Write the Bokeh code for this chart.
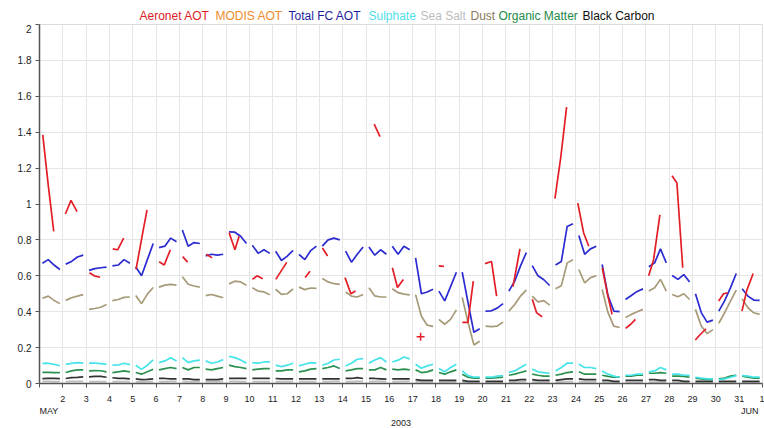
from bokeh.plotting import figure
from bokeh.layouts import column
from bokeh.models import FixedTicker, NumeralTickFormatter, Range1d, LinearAxis
from bokeh.core.properties import value
from bokeh.embed import file_html
from bokeh.resources import INLINE

# ---------------- data ----------------
# model values: 4 values per day (03, 09, 15, 21 UTC), May 1 .. May 31 2003
hours = [3, 9, 15, 21]
n_days = 31

total_fc = [
    0.67, 0.69, 0.66, 0.635,   0.665, 0.68, 0.705, 0.715,  0.63, 0.64, 0.645, 0.648,
    0.655, 0.66, 0.69, 0.67,   0.65, 0.60, 0.69, 0.78,     0.757, 0.765, 0.81, 0.79,
    0.855, 0.765, 0.785, 0.78, 0.71, 0.72, 0.715, 0.72,    0.845, 0.843, 0.82, 0.78,
    0.77, 0.725, 0.745, 0.725, 0.737, 0.685, 0.71, 0.742,  0.72, 0.69, 0.74, 0.765,
    0.765, 0.80, 0.81, 0.80,   0.737, 0.676, 0.72, 0.76,   0.76, 0.715, 0.745, 0.72,
    0.765, 0.72, 0.765, 0.745, 0.70, 0.50, 0.51, 0.525,    0.515, 0.46, 0.54, 0.62,
    0.62, 0.45, 0.285, 0.305,  0.403, 0.405, 0.42, 0.445,  0.515, 0.57, 0.655, 0.73,
    0.657, 0.60, 0.578, 0.546, 0.66, 0.68, 0.875, 0.89,    0.825, 0.72, 0.75, 0.765,
    0.663, 0.49, 0.403, 0.40,  0.468, 0.49, 0.513, 0.527,  0.65, 0.672, 0.75, 0.672,
    0.602, 0.58, 0.607, 0.565, 0.50, 0.395, 0.342, 0.353,  0.403, 0.46, 0.533, 0.613,
    0.528, 0.487, 0.465, 0.463,
]

dust = [
    0.475, 0.487, 0.463, 0.445, 0.463, 0.478, 0.487, 0.495, 0.413, 0.418, 0.425, 0.44,
    0.462, 0.468, 0.48, 0.482,  0.49, 0.445, 0.498, 0.535,  0.537, 0.548, 0.552, 0.548,
    0.595, 0.553, 0.543, 0.537, 0.49, 0.496, 0.487, 0.478,  0.555, 0.57, 0.566, 0.548,
    0.533, 0.515, 0.51, 0.495,  0.525, 0.497, 0.5, 0.527,   0.537, 0.523, 0.532, 0.53,
    0.585, 0.566, 0.556, 0.552, 0.51, 0.487, 0.482, 0.496,  0.533, 0.488, 0.482, 0.482,
    0.528, 0.506, 0.498, 0.494, 0.495, 0.375, 0.325, 0.318, 0.357, 0.33, 0.357, 0.41,
    0.48, 0.34, 0.215, 0.235,   0.32, 0.317, 0.32, 0.342,   0.403, 0.44, 0.487, 0.522,
    0.487, 0.455, 0.462, 0.437, 0.528, 0.545, 0.672, 0.69,  0.635, 0.56, 0.59, 0.60,
    0.524, 0.395, 0.32, 0.312,  0.367, 0.385, 0.40, 0.413,  0.515, 0.533, 0.58, 0.515,
    0.496, 0.483, 0.50, 0.468,  0.413, 0.32, 0.278, 0.30,   0.335, 0.394, 0.459, 0.52,
    0.472, 0.422, 0.394, 0.385,
]

sulphate = [
    0.112, 0.113, 0.107, 0.099, 0.107, 0.112, 0.116, 0.113, 0.113, 0.113, 0.111, 0.107,
    0.102, 0.103, 0.113, 0.105, 0.102, 0.079, 0.102, 0.131, 0.116, 0.126, 0.144, 0.126,
    0.144, 0.116, 0.126, 0.13,  0.126, 0.113, 0.12, 0.133,  0.152, 0.144, 0.131, 0.113,
    0.116, 0.113, 0.12, 0.12,   0.102, 0.094, 0.102, 0.113, 0.098, 0.107, 0.116, 0.113,
    0.102, 0.113, 0.131, 0.135, 0.098, 0.113, 0.135, 0.139, 0.113, 0.131, 0.144, 0.12,
    0.12, 0.13, 0.148, 0.137,   0.107, 0.085, 0.098, 0.107, 0.083, 0.065, 0.089, 0.107,
    0.07, 0.044, 0.035, 0.035,  0.035, 0.035, 0.041, 0.044, 0.061, 0.07, 0.089, 0.107,
    0.08, 0.065, 0.061, 0.057,  0.07, 0.089, 0.113, 0.113,  0.107, 0.089, 0.089, 0.083,
    0.07, 0.052, 0.041, 0.035,  0.046, 0.046, 0.052, 0.052, 0.065, 0.07, 0.089, 0.076,
    0.052, 0.052, 0.046, 0.046, 0.035, 0.03, 0.026, 0.026,  0.022, 0.026, 0.035, 0.044,
    0.044, 0.041, 0.035, 0.035,
]

sea_salt = [
    0.012, 0.012, 0.011, 0.011, 0.011, 0.012, 0.012, 0.012, 0.011, 0.011, 0.01, 0.01,
    0.01, 0.01, 0.011, 0.011,   0.01, 0.009, 0.01, 0.011,   0.011, 0.011, 0.012, 0.012,
    0.012, 0.011, 0.011, 0.011, 0.011, 0.011, 0.011, 0.012, 0.012, 0.012, 0.011, 0.011,
    0.011, 0.011, 0.011, 0.011, 0.01, 0.01, 0.01, 0.011,    0.01, 0.01, 0.011, 0.011,
    0.011, 0.011, 0.012, 0.012, 0.011, 0.011, 0.012, 0.012, 0.011, 0.012, 0.012, 0.011,
    0.011, 0.011, 0.012, 0.012, 0.01, 0.009, 0.009, 0.009,  0.009, 0.008, 0.009, 0.009,
    0.008, 0.007, 0.006, 0.006, 0.006, 0.006, 0.006, 0.007, 0.007, 0.008, 0.009, 0.01,
    0.009, 0.008, 0.008, 0.008, 0.008, 0.009, 0.01, 0.01,   0.01, 0.009, 0.009, 0.009,
    0.008, 0.007, 0.006, 0.006, 0.007, 0.007, 0.007, 0.007, 0.008, 0.008, 0.009, 0.008,
    0.007, 0.007, 0.006, 0.006, 0.006, 0.005, 0.005, 0.005, 0.005, 0.005, 0.006, 0.007,
    0.007, 0.006, 0.006, 0.006,
]

organic_matter = [
    0.062, 0.062, 0.061, 0.061, 0.061, 0.07, 0.076, 0.076,  0.07, 0.072, 0.071, 0.065,
    0.061, 0.065, 0.07, 0.065,  0.061, 0.052, 0.065, 0.079, 0.076, 0.083, 0.089, 0.083,
    0.089, 0.076, 0.089, 0.089, 0.08, 0.076, 0.083, 0.089,  0.102, 0.094, 0.089, 0.083,
    0.076, 0.08, 0.083, 0.083,  0.07, 0.07, 0.076, 0.076,   0.065, 0.07, 0.08, 0.083,
    0.083, 0.089, 0.098, 0.083, 0.07, 0.076, 0.083, 0.083,  0.076, 0.076, 0.089, 0.076,
    0.08, 0.076, 0.08, 0.076,   0.076, 0.061, 0.065, 0.076, 0.061, 0.052, 0.065, 0.076,
    0.052, 0.035, 0.03, 0.03,   0.03, 0.03, 0.032, 0.035,   0.046, 0.052, 0.061, 0.07,
    0.052, 0.046, 0.041, 0.041, 0.046, 0.052, 0.061, 0.065, 0.065, 0.052, 0.052, 0.052,
    0.046, 0.04, 0.035, 0.035,  0.041, 0.041, 0.046, 0.046, 0.057, 0.057, 0.061, 0.057,
    0.041, 0.041, 0.04, 0.035,  0.03, 0.026, 0.022, 0.022,  0.026, 0.03, 0.041, 0.046,
    0.041, 0.035, 0.03, 0.03,
]

black_carbon = [
    0.027, 0.028, 0.028, 0.027, 0.028, 0.033, 0.034, 0.037, 0.037, 0.04, 0.04, 0.035,
    0.032, 0.029, 0.029, 0.026, 0.026, 0.022, 0.023, 0.026, 0.028, 0.028, 0.026, 0.026,
    0.026, 0.026, 0.022, 0.022, 0.022, 0.022, 0.022, 0.026, 0.028, 0.028, 0.028, 0.028,
    0.028, 0.028, 0.028, 0.028, 0.028, 0.026, 0.026, 0.026, 0.026, 0.026, 0.026, 0.026,
    0.026, 0.026, 0.026, 0.026, 0.028, 0.028, 0.033, 0.028, 0.028, 0.028, 0.026, 0.024,
    0.026, 0.026, 0.026, 0.026, 0.022, 0.017, 0.017, 0.017, 0.017, 0.017, 0.017, 0.017,
    0.017, 0.012, 0.012, 0.012, 0.012, 0.012, 0.012, 0.012, 0.017, 0.017, 0.022, 0.022,
    0.022, 0.017, 0.017, 0.017, 0.017, 0.022, 0.026, 0.026, 0.026, 0.022, 0.022, 0.022,
    0.017, 0.017, 0.012, 0.012, 0.017, 0.017, 0.017, 0.017, 0.022, 0.022, 0.017, 0.017,
    0.017, 0.017, 0.012, 0.012, 0.012, 0.012, 0.012, 0.012, 0.012, 0.012, 0.012, 0.012,
    0.012, 0.012, 0.012, 0.012,
]

# AERONET observations: time in days since 2003-05-01 00 UTC, one list per day
aeronet_time = [
    [0.14, 0.38, 0.61], [1.11, 1.35, 1.61], [2.14, 2.35, 2.6], [3.14, 3.35, 3.61],
    [4.14, 4.37, 4.61], [5.13, 5.35, 5.61], [6.14, 6.35], [7.15, 7.4],
    [8.13, 8.38, 8.56], [9.13, 9.33, 9.57], [10.13, 10.6], [11.39, 11.6],
    [12.13, 12.35], [13.1, 13.35, 13.55], [14.35, 14.6], [15.13, 15.35, 15.6],
    [16.34], [17.12, 17.34], [18.13, 18.37, 18.6], [19.1, 19.38, 19.6],
    [20.3, 20.6], [21.13, 21.31, 21.55], [22.1, 22.35, 22.6], [23.08, 23.33, 23.55],
    [24.13, 24.35, 24.55], [25.13, 25.35, 25.55], [26.12, 26.33, 26.6],
    [27.12, 27.33, 27.58], [28.12, 28.33, 28.58], [29.12, 29.33, 29.5],
    [30.12, 30.33, 30.6],
]
aeronet_aot = [
    [1.385, 1.10, 0.848], [0.944, 1.02, 0.957], [0.617, 0.60, 0.592], [0.75, 0.745, 0.81],
    [0.636, 0.80, 0.967], [0.678, 0.66, 0.745], [0.707, 0.676], [0.72, 0.70],
    [0.84, 0.745, 0.82], [0.58, 0.60, 0.583], [0.58, 0.675], [0.59, 0.625],
    [0.755, 0.71], [0.59, 0.50, 0.515], [1.445, 1.375], [0.645, 0.535, 0.58],
    [0.261], [0.655, 0.652], [0.34, 0.34, 0.57], [0.668, 0.68, 0.487],
    [0.54, 0.75], [0.47, 0.395, 0.372], [1.03, 1.26, 1.54], [1.005, 0.84, 0.765],
    [0.645, 0.50, 0.385], [0.307, 0.33, 0.357], [0.6, 0.69, 0.94],
    [1.157, 1.117, 0.645], [0.242, 0.273, 0.305], [0.46, 0.50, 0.505],
    [0.403, 0.52, 0.613],
]

# MODIS: no retrievals shown in this period
modis_time = []
modis_aot = []

y_ticks = [0, 0.2, 0.4, 0.6, 0.8, 1.0, 1.2, 1.4, 1.6, 1.8, 2.0]
x_tick_labels = [""] + [str(d) for d in range(2, 32)] + ["1"]
month_labels = ["MAY", "JUN"]
year_label = "2003"

legend_names = ["Aeronet AOT", "MODIS AOT", "Total FC AOT", "Sulphate",
                "Sea Salt", "Dust", "Organic Matter", "Black Carbon"]

# ---------------- styling ----------------
FONT = "Liberation Sans"
C_RED = "#e41e26"
C_ORANGE = "#f28c28"
C_BLUE = "#2b2bd1"
C_CYAN = "#46e3e8"
C_SEASALT = "#bdbdbd"
C_DUST = "#a69a78"
C_GREEN = "#2c9150"
C_BC = "#333333"
TXT = "#222222"
legend_colors = ["#dd1c24", "#f08c2a", "#1e1e9c", "#4fe0ea",
                 "#bcbcbc", "#8a7a5a", "#238a46", "#111111"]
legend_px = [139, 215, 288, 368, 420, 470, 498, 582]   # page x of each legend entry

W = 764
LEG_H = 24
MAIN_H = 404
BL, BR, BB = 39, 2, 44

# ---------------- legend strip (coloured text row) ----------------
# its frame is aligned with the chart frame by the column layout,
# so the x range is chosen to make data x equal to page x
leg = figure(width=W, height=LEG_H, output_backend="svg", toolbar_location=None,
             x_range=Range1d(BL, W - BR), y_range=Range1d(LEG_H, 0),
             x_axis_type=None, y_axis_type=None, min_border=0,
             min_border_left=BL, min_border_right=BR,
             background_fill_color="white", border_fill_color="white")
leg.outline_line_color = None
leg.grid.visible = False
leg.text(x=legend_px, y=[15] * len(legend_px), text=legend_names,
         text_color=legend_colors, text_font=value(FONT), text_font_size=value("12px"),
         text_baseline="alphabetic", text_align="left")

# ---------------- main chart ----------------
p = figure(width=W, height=MAIN_H, output_backend="svg", toolbar_location=None,
           x_range=Range1d(0, n_days), y_range=Range1d(0, 2),
           min_border_left=BL, min_border_right=BR, min_border_top=0, min_border_bottom=BB,
           background_fill_color="white", border_fill_color="white")
p.outline_line_color = "#dcdcdc"

p.xaxis.ticker = FixedTicker(ticks=list(range(n_days + 1)))
p.xaxis.major_label_overrides = {i: lab for i, lab in enumerate(x_tick_labels)}
p.yaxis.ticker = FixedTicker(ticks=y_ticks)
p.yaxis.formatter = NumeralTickFormatter(format="0.[0]")
for ax in (p.xaxis[0], p.yaxis[0]):
    ax.axis_line_color = "#555555"
    ax.axis_line_width = 1.5
    ax.major_tick_line_color = "#555555"
    ax.major_tick_in = 0
    ax.major_tick_out = 4
    ax.minor_tick_line_color = None
    ax.major_label_text_font = FONT
    ax.major_label_text_color = TXT
p.xaxis.major_label_text_font_size = "9px"
p.xaxis.major_label_standoff = 8
p.yaxis.major_label_text_font_size = "10px"
p.yaxis.major_label_standoff = 4

# second date axis: month names and year
month_pos = [0.4, n_days - 0.55]
ax2 = LinearAxis(ticker=FixedTicker(ticks=month_pos),
                 major_label_overrides={month_pos[0]: month_labels[0],
                                        month_pos[1]: month_labels[1]},
                 axis_line_color=None, major_tick_line_color=None,
                 minor_tick_line_color=None, major_tick_out=0, major_tick_in=0,
                 major_label_standoff=1, major_label_text_font=FONT,
                 major_label_text_font_size="9px", major_label_text_color=TXT,
                 axis_label=year_label, axis_label_standoff=1,
                 axis_label_text_font=FONT, axis_label_text_font_size="9px",
                 axis_label_text_font_style="normal", axis_label_text_color=TXT)
p.add_layout(ax2, "below")

p.xgrid.grid_line_color = "#e6e6e6"
p.ygrid.grid_line_color = "#e6e6e6"


def day_segments(values):
    xs, ys = [], []
    for d in range(n_days):
        xs.append([d + h / 24.0 for h in hours])
        ys.append(values[4 * d:4 * d + 4])
    return xs, ys


LW = 1.7
for vals, col in [(sea_salt, C_SEASALT), (black_carbon, C_BC), (organic_matter, C_GREEN),
                  (sulphate, C_CYAN), (dust, C_DUST), (total_fc, C_BLUE)]:
    xs, ys = day_segments(vals)
    p.multi_line(xs, ys, line_color=col, line_width=LW)

if modis_time:
    p.scatter(modis_time, modis_aot, marker="circle", size=5, color=C_ORANGE)

seg_x = [t for t in aeronet_time if len(t) > 1]
seg_y = [v for t, v in zip(aeronet_time, aeronet_aot) if len(t) > 1]
p.multi_line(seg_x, seg_y, line_color=C_RED, line_width=LW)
single_x = [t[0] for t in aeronet_time if len(t) == 1]
single_y = [v[0] for t, v in zip(aeronet_time, aeronet_aot) if len(t) == 1]
p.scatter(single_x, single_y, marker="cross", size=8, line_width=1.5, color=C_RED)

layout = column(leg, p, spacing=0)
open("out.html", "w").write(file_html(layout, INLINE))
